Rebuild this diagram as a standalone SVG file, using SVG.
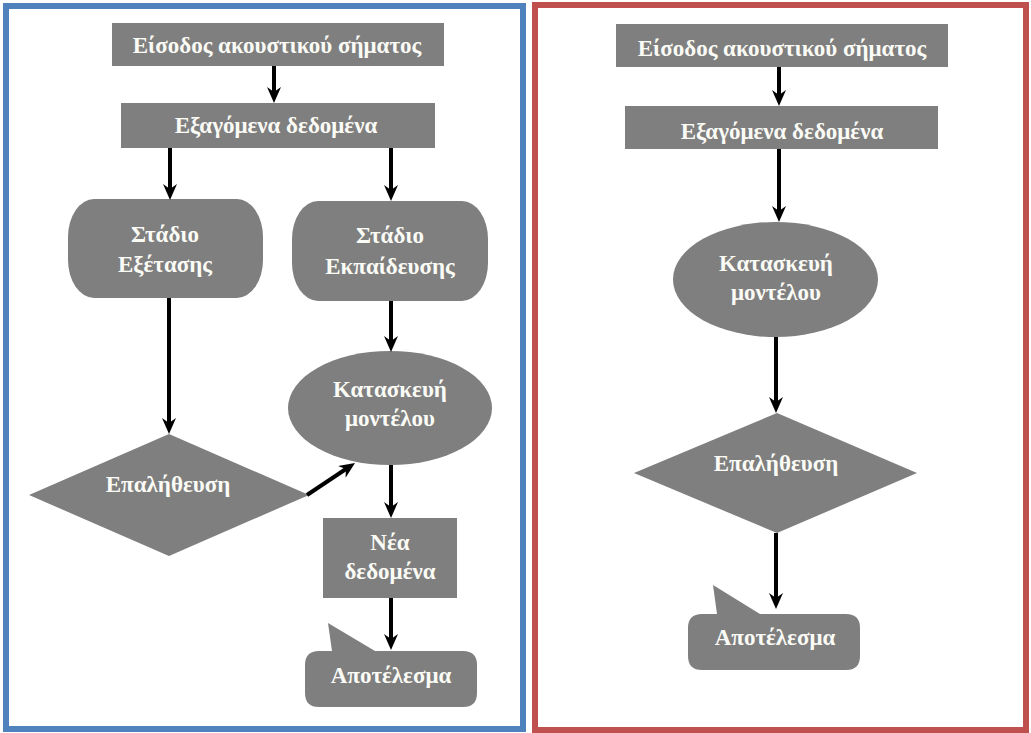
<svg xmlns="http://www.w3.org/2000/svg" width="1031" height="733" viewBox="0 0 1031 733">
  <style>
    .shape { fill: #7f7f7f; }
    .lbl { font-family: "Liberation Serif", "DejaVu Serif", "Times New Roman", serif; font-weight: bold; font-size: 23px; fill: #fbfbf6; text-anchor: middle; }
    .conn { stroke: #000; stroke-width: 4; fill: none; marker-end: url(#arrow); }
    .panel { fill: #fff; stroke-width: 6; }
  </style>
  <defs>
    <marker id="arrow" viewBox="0 0 16 14" markerWidth="16" markerHeight="14" refX="6" refY="7" orient="auto" markerUnits="userSpaceOnUse">
      <path d="M0,0 L16,7 L0,14 L5,7 Z" fill="#000"/>
    </marker>
  </defs>
  <rect width="1031" height="733" fill="#fff"/>

  <g id="panel-left">
    <rect class="panel" x="6" y="6" width="517" height="723" stroke="#4f81bd"/>
  </g>
  <g id="panel-right">
    <rect class="panel" x="535" y="5" width="491" height="725" stroke="#c0504d"/>
  </g>

  <!-- Left panel nodes -->
  <g id="L-input">
    <rect class="shape" x="112" y="23" width="332" height="43"/>
    <text class="lbl" x="277" y="53">Είσοδος ακουστικού σήματος</text>
  </g>
  <g id="L-features">
    <rect class="shape" x="121" y="103" width="314" height="45"/>
    <text class="lbl" x="276" y="133">Εξαγόμενα δεδομένα</text>
  </g>
  <g id="L-test">
    <rect class="shape" x="68" y="199" width="195" height="99" rx="26" ry="38"/>
    <text class="lbl" x="165" y="242">Στάδιο</text>
    <text class="lbl" x="165" y="272">Εξέτασης</text>
  </g>
  <g id="L-train">
    <rect class="shape" x="292" y="201" width="196" height="100" rx="26" ry="38"/>
    <text class="lbl" x="390" y="243">Στάδιο</text>
    <text class="lbl" x="390" y="274">Εκπαίδευσης</text>
  </g>
  <g id="L-model">
    <ellipse class="shape" cx="390" cy="408" rx="102" ry="57"/>
    <text class="lbl" x="390" y="397">Κατασκευή</text>
    <text class="lbl" x="390" y="426">μοντέλου</text>
  </g>
  <g id="L-verify">
    <polygon class="shape" points="169,434 309,495 169,556 29,495"/>
    <text class="lbl" x="168" y="492">Επαλήθευση</text>
  </g>
  <g id="L-newdata">
    <rect class="shape" x="323" y="518" width="134" height="80"/>
    <text class="lbl" x="390" y="550">Νέα</text>
    <text class="lbl" x="390" y="579">δεδομένα</text>
  </g>
  <g id="L-result">
    <path class="shape" d="M319,651 L332,651 L328,623 L375,651 L463,651 Q477,651 477,665 L477,693 Q477,707 463,707 L319,707 Q305,707 305,693 L305,665 Q305,651 319,651 Z"/>
    <text class="lbl" x="391" y="683">Αποτέλεσμα</text>
  </g>

  <!-- Right panel nodes -->
  <g id="R-input">
    <rect class="shape" x="616" y="24" width="332" height="43"/>
    <text class="lbl" x="782" y="56">Είσοδος ακουστικού σήματος</text>
  </g>
  <g id="R-features">
    <rect class="shape" x="625" y="106" width="313" height="43"/>
    <text class="lbl" x="782" y="139">Εξαγόμενα δεδομένα</text>
  </g>
  <g id="R-model">
    <ellipse class="shape" cx="775.5" cy="279.5" rx="102.5" ry="57.5"/>
    <text class="lbl" x="776" y="271">Κατασκευή</text>
    <text class="lbl" x="776" y="300">μοντέλου</text>
  </g>
  <g id="R-verify">
    <polygon class="shape" points="777,413 917,473 777,533 634,473"/>
    <text class="lbl" x="776" y="471">Επαλήθευση</text>
  </g>
  <g id="R-result">
    <path class="shape" d="M702,614 L717,614 L713,585 L760,614 L846,614 Q860,614 860,628 L860,656 Q860,670 846,670 L702,670 Q688,670 688,656 L688,628 Q688,614 702,614 Z"/>
    <text class="lbl" x="775" y="645">Αποτέλεσμα</text>
  </g>

  <g id="connectors">
    <path class="conn" d="M274,66 L274,93"/>
    <path class="conn" d="M170,148 L170,190"/>
    <path class="conn" d="M391,148 L391,191"/>
    <path class="conn" d="M169,298 L169,424"/>
    <path class="conn" d="M391,301 L391,342"/>
    <path class="conn" d="M307,495 L346.7,468.5"/>
    <path class="conn" d="M391,465 L391,508"/>
    <path class="conn" d="M391,598 L391,640"/>
    <path class="conn" d="M779,67 L779,96"/>
    <path class="conn" d="M779,149 L779,212"/>
    <path class="conn" d="M776,337 L776,403"/>
    <path class="conn" d="M776,533 L776,599"/>
  </g>
</svg>
